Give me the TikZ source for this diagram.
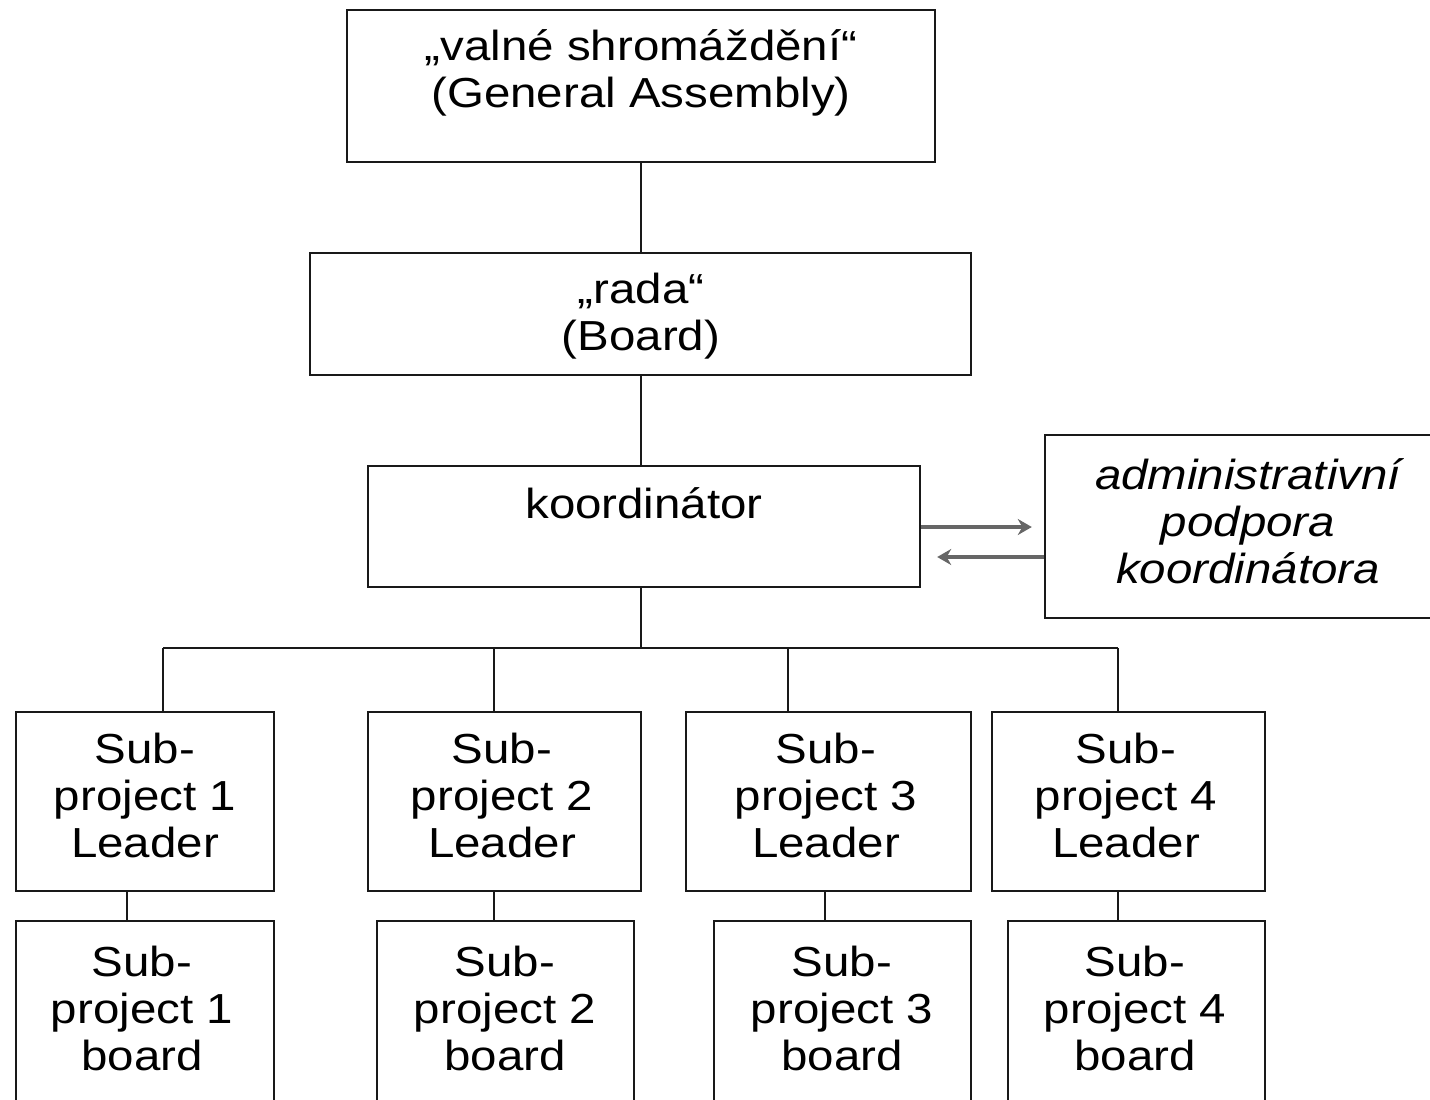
\documentclass[tikz,border=0pt]{standalone}
\usepackage{fontspec}
\setmainfont{Liberation Sans}[FakeStretch=1.13]
\usetikzlibrary{fit,arrows.meta}
\begin{document}
\begin{tikzpicture}[x=0.5pt,y=-0.5pt,
  box/.style={draw=black!90,line width=1.2pt,inner sep=0pt},
  txt/.style={align=center,font=\fontsize{21}{23.5}\selectfont,inner sep=0pt},
  ln/.style={draw=black!90,line width=1.2pt},
  arr/.style={draw=black!60,line width=2pt,-{Stealth[length=7pt,width=8pt]}}]
\useasboundingbox (0,0) rectangle (1430,1099);
\clip (0,0) rectangle (1430,1099);
% boxes
\node[box,fit={(347,10) (935,162)}] (ga) {};
\node[txt] (gat) at (641,73) {„valné shromáždění“\\(General Assembly)};
\node[box,fit={(310,253) (971,375)}] (bd) {};
\node[txt] (bdt) at (641,316) {„rada“\\(Board)};
\node[box,fit={(368,466) (920,587)}] (ko) {};
\node[txt] (kot) at (644,503) {koordinátor};
\node[box,fit={(1045,435) (1440,618)}] (ad) {};
\node[txt,font=\fontsize{21}{23.5}\selectfont\itshape] (adt) at (1248,521) {administrativní\\podpora\\koordinátora};
% leaders
\node[box,fit={(16,712) (274,891)}] (l1) {};
\node[txt] (l1t) at (145,795) {Sub-\\project 1\\Leader};
\node[box,fit={(368,712) (641,891)}] (l2) {};
\node[txt] (l2t) at (502,795) {Sub-\\project 2\\Leader};
\node[box,fit={(686,712) (971,891)}] (l3) {};
\node[txt] (l3t) at (826,795) {Sub-\\project 3\\Leader};
\node[box,fit={(992,712) (1265,891)}] (l4) {};
\node[txt] (l4t) at (1126,795) {Sub-\\project 4\\Leader};
% boards
\node[box,fit={(16,921) (274,1120)}] (s1) {};
\node[txt] (s1t) at (142,1008) {Sub-\\project 1\\board};
\node[box,fit={(377,921) (634,1120)}] (s2) {};
\node[txt] (s2t) at (505,1008) {Sub-\\project 2\\board};
\node[box,fit={(714,921) (971,1120)}] (s3) {};
\node[txt] (s3t) at (842,1008) {Sub-\\project 3\\board};
\node[box,fit={(1008,921) (1265,1120)}] (s4) {};
\node[txt] (s4t) at (1135,1008) {Sub-\\project 4\\board};
% connectors
\coordinate (m) at (641,0);
\draw[ln] (ga.south -| m) -- (bd.north -| m);
\draw[ln] (bd.south -| m) -- (ko.north -| m);
\coordinate (bus) at (641,648);
\coordinate (d1) at (163,648);
\coordinate (d2) at (494,648);
\coordinate (d3) at (788,648);
\coordinate (d4) at (1118,648);
\draw[ln] (ko.south -| m) -- (bus);
\draw[ln] (d1) -- (d4);
\draw[ln] (d1) -- (l1.north -| d1);
\draw[ln] (d2) -- (l2.north -| d2);
\draw[ln] (d3) -- (l3.north -| d3);
\draw[ln] (d4) -- (l4.north -| d4);
\coordinate (c1) at (127,0);
\coordinate (c2) at (494,0);
\coordinate (c3) at (825,0);
\coordinate (c4) at (1118,0);
\draw[ln] (l1.south -| c1) -- (s1.north -| c1);
\draw[ln] (l2.south -| c2) -- (s2.north -| c2);
\draw[ln] (l3.south -| c3) -- (s3.north -| c3);
\draw[ln] (l4.south -| c4) -- (s4.north -| c4);
\coordinate (ya) at (0,527);
\coordinate (yb) at (0,557);
\draw[arr,shorten >=6pt] (ko.east |- ya) -- (ad.west |- ya);
\draw[arr,shorten >=8pt] (ad.west |- yb) -- (ko.east |- yb);
\end{tikzpicture}
\end{document}
